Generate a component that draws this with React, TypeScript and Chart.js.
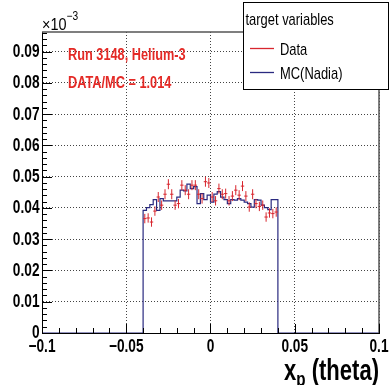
import React, { useEffect, useRef } from 'react';
import { Chart, registerables } from 'chart.js';

Chart.register(...registerables);

// ---------- data ----------
const BIN_WIDTH = 0.002;
const BIN_CENTERS = [
  -0.039, -0.037, -0.035, -0.033, -0.031, -0.029, -0.027, -0.025, -0.023, -0.021,
  -0.019, -0.017, -0.015, -0.013, -0.011, -0.009, -0.007, -0.005, -0.003, -0.001,
  0.001, 0.003, 0.005, 0.007, 0.009, 0.011, 0.013, 0.015, 0.017, 0.019,
  0.021, 0.023, 0.025, 0.027, 0.029, 0.031, 0.033, 0.035, 0.037, 0.039,
];
// MC (Nadia) histogram contents, in units of 10^-3
const MC_VALUES = [
  0.0390, 0.0392, 0.0401, 0.0411, 0.0427, 0.0392, 0.0430, 0.0423, 0.0423, 0.0423,
  0.0423, 0.0435, 0.0457, 0.0455, 0.0476, 0.0462, 0.0468, 0.0414, 0.0446, 0.0427,
  0.0441, 0.0419, 0.0444, 0.0452, 0.0435, 0.0427, 0.0414, 0.0427, 0.0425, 0.0430,
  0.0425, 0.0419, 0.0414, 0.0403, 0.0427, 0.0425, 0.0409, 0.0401, 0.0395, 0.0427,
];
// Data points, in units of 10^-3
const DATA_VALUES = [
  0.0366, 0.0368, 0.0355, 0.0390, 0.0435, 0.0409, 0.0444, 0.0476, 0.0444, 0.0409,
  0.0414, 0.0473, 0.0457, 0.0444, 0.0473, 0.0473, 0.0444, 0.0430, 0.0484, 0.0480,
  0.0435, 0.0423, 0.0462, 0.0444, 0.0446, 0.0423, 0.0438, 0.0457, 0.0441, 0.0470,
  0.0438, 0.0403, 0.0444, 0.0414, 0.0405, 0.0409, 0.0371, 0.0384, 0.0382, 0.0387,
];
const DATA_ERRORS = [
  0.0015, 0.0015, 0.0015, 0.0015, 0.0016, 0.0015, 0.0016, 0.0016, 0.0016, 0.0015,
  0.0015, 0.0016, 0.0016, 0.0016, 0.0016, 0.0016, 0.0016, 0.0016, 0.0016, 0.0016,
  0.0016, 0.0015, 0.0016, 0.0016, 0.0016, 0.0015, 0.0016, 0.0016, 0.0016, 0.0016,
  0.0016, 0.0015, 0.0016, 0.0015, 0.0015, 0.0015, 0.0015, 0.0015, 0.0015, 0.0015,
];

const X_TICKS = [-0.1, -0.05, 0, 0.05, 0.1];
const X_TICK_LABELS = ['\u22120.1', '\u22120.05', '0', '0.05', '0.1'];
const Y_TICKS = [0, 0.01, 0.02, 0.03, 0.04, 0.05, 0.06, 0.07, 0.08, 0.09];
const Y_TICK_LABELS = ['0', '0.01', '0.02', '0.03', '0.04', '0.05', '0.06', '0.07', '0.08', '0.09'];
const X_MINOR_STEP = 0.01;
const Y_MINOR_STEP = 0.002;
const X_RANGE = [-0.1, 0.1];
const Y_RANGE = [0, 0.0963];

const LEGEND_TITLE = 'target variables';
const SERIES_NAMES = ['Data', 'MC(Nadia)'];
const INFO_LINES = ['Run 3148, Helium-3', 'DATA/MC = 1.014'];
const X_TITLE = ['x', 'p', '(theta)'];
const Y_MULTIPLIER = ['\u00d710', '\u22123'];

// ---------- style ----------
const W = 389;
const H = 385;
const RED = '#d8262e';
const TEXT_RED = '#e42a26';
const BLUE = '#2a2a80';
const FONT = '"Liberation Sans", Arial, Helvetica, sans-serif';
const SX = 0.76; // horizontal squeeze of the reference's text

function text(
  ctx: CanvasRenderingContext2D,
  str: string,
  x: number,
  y: number,
  font: string,
  align: CanvasTextAlign = 'left',
  baseline: CanvasTextBaseline = 'alphabetic',
  sx: number = SX,
) {
  ctx.save();
  ctx.font = font;
  ctx.textAlign = align;
  ctx.textBaseline = baseline;
  ctx.translate(x, y);
  ctx.scale(sx, 1);
  ctx.fillText(str, 0, 0);
  const w = ctx.measureText(str).width * sx;
  ctx.restore();
  return w;
}

function textWidth(ctx: CanvasRenderingContext2D, str: string, font: string, sx: number = SX) {
  ctx.save();
  ctx.font = font;
  const w = ctx.measureText(str).width * sx;
  ctx.restore();
  return w;
}

const rootPlugin = {
  id: 'rootStyle',
  afterDatasetsDraw(chart: any) {
    const { ctx } = chart;
    const xs = chart.scales.x;
    const ys = chart.scales.y;
    const meta = chart.getDatasetMeta(1);
    ctx.save();
    ctx.strokeStyle = RED;
    ctx.lineWidth = 1;
    meta.data.forEach((pt: any, i: number) => {
      const c = BIN_CENTERS[i];
      const xl = xs.getPixelForValue(c - BIN_WIDTH / 2);
      const xr = xs.getPixelForValue(c + BIN_WIDTH / 2);
      const yt = ys.getPixelForValue(DATA_VALUES[i] + DATA_ERRORS[i]);
      const yb = ys.getPixelForValue(DATA_VALUES[i] - DATA_ERRORS[i]);
      ctx.beginPath();
      ctx.moveTo(xl, pt.y);
      ctx.lineTo(xr, pt.y);
      ctx.moveTo(pt.x, yt);
      ctx.lineTo(pt.x, yb);
      ctx.stroke();
    });
    ctx.restore();
  },
  afterDraw(chart: any) {
    const { ctx, chartArea: a } = chart;
    const xs = chart.scales.x;
    const ys = chart.scales.y;
    ctx.save();

    // frame top / right
    ctx.strokeStyle = '#555';
    ctx.lineWidth = 1.5;
    ctx.beginPath();
    ctx.moveTo(a.left, a.top);
    ctx.lineTo(a.right, a.top);
    ctx.lineTo(a.right, a.bottom);
    ctx.stroke();

    // inside ticks
    ctx.strokeStyle = '#000';
    ctx.lineWidth = 1;
    ctx.beginPath();
    for (let v = Y_RANGE[0]; v <= Y_RANGE[1] + 1e-9; v += Y_MINOR_STEP) {
      const py = Math.round(ys.getPixelForValue(v)) + 0.5;
      const isMajor = Math.abs(v / 0.01 - Math.round(v / 0.01)) < 1e-6;
      ctx.moveTo(a.left, py);
      ctx.lineTo(a.left + (isMajor ? 10 : 5), py);
    }
    for (let v = X_RANGE[0]; v <= X_RANGE[1] + 1e-9; v += X_MINOR_STEP) {
      const px = Math.round(xs.getPixelForValue(v)) + 0.5;
      const isMajor = Math.abs(v / 0.05 - Math.round(v / 0.05)) < 1e-6;
      ctx.moveTo(px, a.bottom);
      ctx.lineTo(px, a.bottom - (isMajor ? 9 : 5));
    }
    ctx.stroke();

    // tick labels from the scales' ticks
    ctx.fillStyle = '#000';
    const tickFont = `bold 18px ${FONT}`;
    xs.ticks.forEach((t: any, i: number) => {
      text(ctx, X_TICK_LABELS[i], xs.getPixelForValue(t.value), 352, tickFont, 'center');
    });
    ys.ticks.forEach((t: any, i: number) => {
      text(ctx, Y_TICK_LABELS[i], a.left - 2.5, ys.getPixelForValue(t.value) + 0.5, tickFont, 'right', 'middle');
    });

    // multiplier
    const mw = text(ctx, Y_MULTIPLIER[0], a.left, 30, `17px ${FONT}`, 'left', 'alphabetic', 0.85);
    text(ctx, Y_MULTIPLIER[1], a.left + mw, 20, `12px ${FONT}`, 'left', 'alphabetic', 0.85);

    // info text
    ctx.fillStyle = TEXT_RED;
    text(ctx, INFO_LINES[0], 68, 60, `bold 16.8px ${FONT}`);
    text(ctx, INFO_LINES[1], 68, 88, `bold 16.8px ${FONT}`);

    // legend
    const lx = 243.5, ly = 2.5, lw = 145, lh = 87;
    ctx.fillStyle = '#fff';
    ctx.fillRect(lx, ly, lw, lh);
    ctx.strokeStyle = '#000';
    ctx.lineWidth = 1;
    ctx.strokeRect(lx, ly, lw, lh);
    ctx.fillStyle = '#000';
    text(ctx, LEGEND_TITLE, 245.5, 25, `17px ${FONT}`);
    const entryY = [48, 72];
    const entryColor = [RED, BLUE];
    SERIES_NAMES.forEach((name, i) => {
      ctx.strokeStyle = entryColor[i];
      ctx.lineWidth = 1.3;
      ctx.beginPath();
      ctx.moveTo(250, entryY[i] + 0.5);
      ctx.lineTo(274, entryY[i] + 0.5);
      ctx.stroke();
      ctx.fillStyle = '#000';
      text(ctx, name, 280, entryY[i] + 6.5, `17px ${FONT}`);
    });

    // x axis title (right aligned at frame edge)
    ctx.fillStyle = '#000';
    const bigFont = `bold 29px ${FONT}`;
    const subFont = `bold 20px ${FONT}`;
    const right = a.right;
    const wTheta = textWidth(ctx, X_TITLE[2], bigFont);
    const wSpace = textWidth(ctx, ' ', bigFont);
    const wP = textWidth(ctx, X_TITLE[1], subFont);
    const wX = textWidth(ctx, X_TITLE[0], bigFont);
    const startTheta = right - wTheta;
    const startP = startTheta - wSpace - wP;
    const startX = startP - wX;
    text(ctx, X_TITLE[0], startX, 380, bigFont);
    text(ctx, X_TITLE[1], startP, 386, subFont);
    text(ctx, X_TITLE[2], startTheta, 380, bigFont);

    ctx.restore();
  },
};

export default function App() {
  const ref = useRef<HTMLCanvasElement | null>(null);

  useEffect(() => {
    const canvas = ref.current;
    if (!canvas) return;

    const mcPoints: { x: number; y: number }[] = [];
    mcPoints.push({ x: X_RANGE[0], y: 0 });
    const lowEdge = BIN_CENTERS[0] - BIN_WIDTH / 2;
    const highEdge = BIN_CENTERS[BIN_CENTERS.length - 1] + BIN_WIDTH / 2;
    mcPoints.push({ x: lowEdge, y: 0 });
    BIN_CENTERS.forEach((c, i) => mcPoints.push({ x: c - BIN_WIDTH / 2, y: MC_VALUES[i] }));
    mcPoints.push({ x: highEdge, y: MC_VALUES[MC_VALUES.length - 1] });
    mcPoints.push({ x: highEdge, y: 0 });
    mcPoints.push({ x: X_RANGE[1], y: 0 });

    const dataPoints = BIN_CENTERS.map((c, i) => ({ x: c, y: DATA_VALUES[i] }));

    const chart = new Chart(canvas, {
      type: 'scatter',
      data: {
        datasets: [
          {
            type: 'line',
            label: SERIES_NAMES[1],
            data: mcPoints,
            stepped: 'after',
            borderColor: BLUE,
            borderWidth: 1.2,
            pointRadius: 0,
            fill: false,
            showLine: true,
          } as any,
          {
            type: 'scatter',
            label: SERIES_NAMES[0],
            data: dataPoints,
            pointRadius: 0,
            showLine: false,
          },
        ],
      },
      options: {
        responsive: false,
        animation: false,
        devicePixelRatio: 1,
        layout: { padding: { top: 32, right: 10, left: 0, bottom: 0 } },
        plugins: { legend: { display: false }, tooltip: { enabled: false } },
        scales: {
          x: {
            type: 'linear',
            min: X_RANGE[0],
            max: X_RANGE[1],
            afterBuildTicks: (s: any) => {
              s.ticks = X_TICKS.map((v) => ({ value: v }));
            },
            afterFit: (s: any) => {
              s.height = 52;
            },
            grid: { color: '#444', lineWidth: 1, drawTicks: false },
            border: { display: true, color: '#000', width: 1, dash: [1, 2] },
            ticks: { display: false },
          },
          y: {
            type: 'linear',
            min: Y_RANGE[0],
            max: Y_RANGE[1],
            afterBuildTicks: (s: any) => {
              s.ticks = Y_TICKS.map((v) => ({ value: v }));
            },
            afterFit: (s: any) => {
              s.width = 42;
            },
            grid: { color: '#444', lineWidth: 1, drawTicks: false },
            border: { display: true, color: '#000', width: 1, dash: [1, 2] },
            ticks: { display: false },
          },
        },
      },
      plugins: [rootPlugin],
    });

    return () => chart.destroy();
  }, []);

  return (
    <div style={{ position: 'fixed', left: 0, top: 0, width: W, height: H, background: '#fff' }}>
      <canvas ref={ref} width={W} height={H} style={{ width: W, height: H, display: 'block' }} />
    </div>
  );
}
